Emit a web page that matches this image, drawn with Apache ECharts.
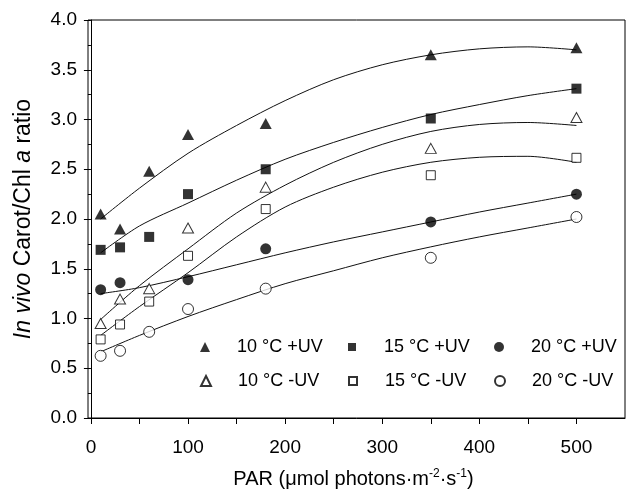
<!DOCTYPE html>
<html>
<head>
<meta charset="utf-8">
<script src="https://cdn.jsdelivr.net/npm/echarts@6/dist/echarts.min.js"></script>
<style>
  html, body { margin: 0; padding: 0; background: #fff; }
  #chart { width: 629px; height: 496px; }
</style>
</head>
<body>
<div id="chart"></div>
<script>
// measured points
const parX = [10, 30, 60, 100, 180, 350, 500];
const c10UV = [2.05, 1.90, 2.48, 2.85, 2.96, 3.65, 3.72];
const c15UV = [1.69, 1.715, 1.82, 2.25, 2.50, 3.01, 3.31];
const c20UV = [1.29, 1.36, null, 1.39, 1.70, 1.97, 2.25];
const c10noUV = [0.95, 1.195, 1.30, 1.91, 2.32, 2.71, 3.02];
const c15noUV = [0.79, 0.94, 1.17, 1.63, 2.10, 2.44, 2.615];
const c20noUV = [0.625, 0.675, 0.866, 1.095, 1.30, 1.61, 2.02];

// fitted curves at these PAR values
const fitX = [10, 50, 100, 150, 200, 250, 300, 350, 400, 450, 500];
const fit10UV = [2.0, 2.31, 2.66, 2.94, 3.19, 3.40, 3.55, 3.65, 3.71, 3.73, 3.70];
const fit15UV = [1.66, 1.93, 2.16, 2.39, 2.60, 2.77, 2.92, 3.05, 3.15, 3.24, 3.31];
const fit20UV = [1.25, 1.31, 1.42, 1.54, 1.66, 1.77, 1.87, 1.97, 2.07, 2.16, 2.25];
const fit10noUV = [0.99, 1.33, 1.70, 2.06, 2.34, 2.57, 2.75, 2.88, 2.95, 2.97, 2.94];
const fit15noUV = [0.83, 1.12, 1.46, 1.82, 2.12, 2.32, 2.47, 2.57, 2.62, 2.63, 2.57];
const fit20noUV = [0.665, 0.83, 1.02, 1.19, 1.35, 1.48, 1.61, 1.72, 1.82, 1.91, 2.0];

const xTickLabels = [0, 100, 200, 300, 400, 500];
const xTickMarks = [0, 50, 100, 150, 200, 250, 300, 350, 400, 450, 500];

const FONT = '"Liberation Sans", Arial, sans-serif';

function pairs(xs, ys) {
  const out = [];
  xs.forEach((x, i) => { if (ys[i] != null) out.push([x, ys[i]]); });
  return out;
}

function fitLine(ys) {
  return {
    type: 'line',
    data: pairs(fitX, ys),
    smooth: 0.3,
    showSymbol: false,
    silent: true,
    z: 1,
    lineStyle: { color: '#111', width: 1 }
  };
}

function points(name, ys, symbol, size, filled) {
  return {
    name: name,
    type: 'scatter',
    data: pairs(parX, ys),
    symbol: symbol,
    symbolSize: size,
    z: 3,
    itemStyle: filled
      ? { color: '#000' }
      : { color: '#fff', borderColor: '#000', borderWidth: 1 }
  };
}

const names = ['10 °C +UV', '15 °C +UV', '20 °C +UV', '10 °C -UV', '15 °C -UV', '20 °C -UV'];
// centre of each legend symbol, and symbol size per column
const legendCx = [205, 352, 499];
const legendCy = [348, 382];
const legendIcon = [10, 8, 10];

const legends = names.map((n, i) => {
  const s = legendIcon[i % 3];
  return {
    data: [n],
    left: legendCx[i % 3] - s / 2,
    top: legendCy[Math.floor(i / 3)] - 10,
    padding: 0,
    itemWidth: s,
    itemHeight: s,
    selectedMode: false,
    textStyle: {
      fontFamily: FONT, fontSize: 18, color: '#000',
      padding: [0, 0, 0, 32 - s / 2 - 5]
    }
  };
});

const chart = echarts.init(document.getElementById('chart'));
chart.setOption({
  animation: false,
  backgroundColor: '#fff',
  legend: legends,
  grid: {
    left: 88, right: 4, top: 20, bottom: 78,
    show: true, borderColor: '#000', borderWidth: 1
  },
  xAxis: {
    type: 'value',
    min: -3,
    max: 550,
    name: '{n|PAR (μmol photons·m}{s|-2}{n|·s}{s|-1}{n|)}',
    nameLocation: 'middle',
    nameGap: 50,
    nameTextStyle: {
      fontFamily: FONT, fontSize: 20, color: '#000',
      padding: [0, 6, 0, 0],
      rich: {
        n: { fontFamily: FONT, fontSize: 20, color: '#000', lineHeight: 22 },
        s: { fontFamily: FONT, fontSize: 12, color: '#000', verticalAlign: 'top', lineHeight: 22 }
      }
    },
    splitLine: { show: false },
    axisLine: { show: true, lineStyle: { color: '#000', width: 1 } },
    axisTick: { show: true, length: 6, customValues: xTickMarks, lineStyle: { color: '#000' } },
    axisLabel: {
      customValues: xTickLabels,
      fontFamily: FONT, fontSize: 19, color: '#000', margin: 20
    }
  },
  yAxis: {
    type: 'value',
    min: 0,
    max: 4,
    interval: 0.5,
    name: '{i|In vivo} Carot/Chl {i|a} ratio',
    nameLocation: 'middle',
    nameGap: 53,
    nameTextStyle: {
      fontFamily: FONT, fontSize: 23, color: '#000',
      rich: {
        i: { fontFamily: FONT, fontSize: 23, fontStyle: 'italic', color: '#000' }
      }
    },
    splitLine: { show: false },
    axisLine: { show: true, lineStyle: { color: '#000', width: 1 } },
    axisTick: { show: true, length: 7, lineStyle: { color: '#000' } },
    minorTick: { show: true, splitNumber: 2, length: 3, lineStyle: { color: '#000' } },
    axisLabel: {
      fontFamily: FONT, fontSize: 19, color: '#000', margin: 11,
      formatter: v => v.toFixed(1)
    }
  },
  series: [
    fitLine(fit10UV),
    fitLine(fit15UV),
    fitLine(fit20UV),
    fitLine(fit10noUV),
    fitLine(fit15noUV),
    fitLine(fit20noUV),
    points(names[0], c10UV, 'triangle', [12, 11], true),
    points(names[1], c15UV, 'rect', 10, true),
    points(names[2], c20UV, 'circle', 11, true),
    points(names[3], c10noUV, 'triangle', [11, 10], false),
    points(names[4], c15noUV, 'rect', 9, false),
    points(names[5], c20noUV, 'circle', 11, false)
  ]
});
</script>
</body>
</html>
